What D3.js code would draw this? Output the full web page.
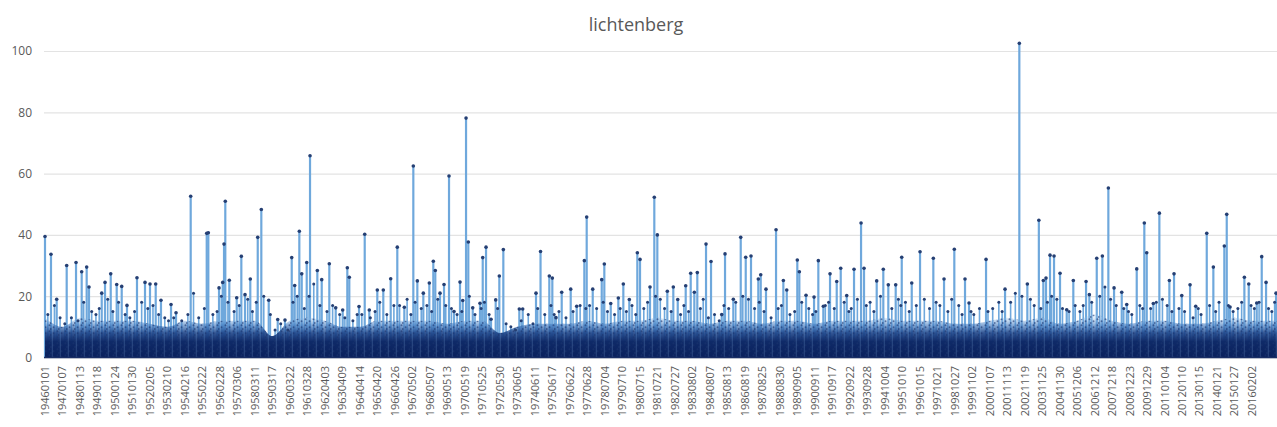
<!DOCTYPE html>
<html>
<head>
<meta charset="utf-8">
<script src="https://cdn.jsdelivr.net/npm/d3@7"></script>
<style>
  body { margin: 0; background: #fff; }
  text { font-family: "Open Sans", "Noto Sans", sans-serif; fill: #595959; }
</style>
</head>
<body>
<svg id="chart" width="1277" height="427"></svg>
<script>
// daily precipitation, station lichtenberg (mm), 1946-01-01 .. mid 2017
var tickLabels = ["19460101","19470107","19480113","19490118","19500124","19510130","19520205","19530210",
  "19540216","19550222","19560228","19570306","19580311","19590317","19600322","19610328","19620403",
  "19630409","19640414","19650420","19660426","19670502","19680507","19690513","19700519","19710525",
  "19720530","19730605","19740611","19750617","19760622","19770628","19780704","19790710","19800715",
  "19810721","19820727","19830802","19840807","19850813","19860819","19870825","19880830","19890905",
  "19900911","19910917","19920922","19930928","19941004","19951010","19961015","19971021","19981027",
  "19991102","20001107","20011113","20021119","20031125","20041130","20051206","20061212","20071218",
  "20081223","20091229","20110104","20120110","20130115","20140121","20150127","20160202"];
var labelEvery = 371;     // one label every 371 days
var totalDays = 26130;

// wet days that stand out of the dense band (day number since 1946-01-01, mm)
var spikeDay = [0,127,248,460,658,778,884,933,1203,1273,1394,1521,1627,1739,1951,2121,2227,2348,2460,2673,
  2779,3090,3430,3464,3691,3769,3797,3824,3909,4066,4164,4242,4354,4512,4588,4745,4936,5090,5233,5296,
  5394,5445,5551,5621,5776,5869,6030,6166,6314,6412,6454,6660,6781,6878,7048,7175,7332,7472,7621,7812,
  7897,8024,8151,8236,8278,8378,8463,8569,8675,8802,8860,8930,8978,9072,9226,9284,9354,9460,9559,9636,
  9721,10060,10132,10414,10510,10696,10760,10838,10959,11150,11277,11439,11489,11617,11808,11863,11999,12160,12266,
  12393,12563,12620,12832,12923,12987,13199,13326,13420,13589,13695,13772,13835,14020,14126,14353,14423,
  14599,14756,14862,14974,15129,15180,15292,15505,15660,15732,15956,15999,16141,16311,16402,16508,16650,
  16792,16877,17004,17159,17308,17371,17640,17780,17886,18043,18171,18383,18559,18841,19068,19286,19513,
  19598,19959,20362,20665,20835,21079,21174,21231,21316,21401,21528,21670,21810,22080,22150,22307,22426,
  22553,22674,22837,22943,23155,23316,23367,23507,23635,23847,23946,24110,24286,24406,24640,24780,25013,
  25064,25134,25438,25531,25700,25806,25898,26110];
var spikeMm = [39.5,33.7,19,30,31,28,29.5,23,21,24.5,27.3,23.8,23.2,17,26,24.5,24,24,18.7,17.3,
  14.6,52.6,40.5,40.7,22.7,24.5,37,51,25.2,19.5,33,20.5,25.6,39.2,48.3,18.7,12.4,12.2,32.6,23.5,
  41.2,27.3,31,65.8,28.4,25.4,30.6,16.2,15.5,29.3,26.2,16.6,40.2,15.5,22,22,25.7,36,16.4,62.5,
  25,21,24.3,31.4,28.4,21,23.8,59.2,15,24.6,18.6,78.1,37.7,16.2,17.7,32.6,36,12.5,18.8,26.6,
  35.2,15.8,15.8,21,34.6,26.6,25.9,13,21.3,22.3,16.7,31.6,45.8,22.3,25.4,30.5,17.6,19.4,24,
  18.9,34.2,32,23,52.3,40,21.6,23,18.9,23.4,27.5,21.3,27.7,37,31.3,14,33.8,
  19,39.2,32.7,33.1,25.6,27,22.3,41.7,25.1,22,31.8,28,20.3,19.7,31.6,16.7,27.3,
  24.8,29.1,20.2,28.8,43.9,29.1,25,28.8,23.7,23.7,32.7,24.3,34.5,32.4,25.6,35.3,25.6,
  17.8,32,22.3,102.5,24,44.8,25.1,25.9,33.4,33.1,27.5,15.6,25.1,24.8,20.5,32.4,33.1,
  55.3,22.7,21.3,17.3,28.9,43.9,34.2,17.6,47.1,25.1,27.3,20.2,23.7,16.7,40.5,29.5,36.4,
  46.7,16.5,26.2,24,17.8,32.9,24.5,21];

// smaller wet days just above the band (day number, mm)
var minorDay = [60,200,320,420,560,700,820,990,1080,1150,1330,1440,1560,1700,1800,1900,2050,2180,2290,2410,2540,
  2620,2730,2900,3030,3150,3260,3380,3560,3650,3740,3880,4010,4120,4300,4400,4480,4640,4780,4880,5000,5150,
  5260,5350,5500,5600,5700,5830,5980,6100,6250,6360,6530,6620,6720,6900,7000,7100,7250,7400,7520,7680,7760,
  7850,7980,8100,8200,8330,8500,8620,8740,8840,9000,9120,9250,9320,9420,9600,9780,9880,9980,10100,10250,10350,
  10450,10600,10730,10800,10900,11050,11200,11350,11470,11550,11700,11840,11930,12080,12200,12330,12450,12530,
  12700,12780,12950,13050,13140,13280,13480,13550,13650,13900,13960,14070,14200,14300,14400,14500,14650,14800,
  14920,15050,15150,15250,15400,15550,15620,15800,15900,16050,16200,16280,16350,16550,16620,16740,16950,17050,
  17100,17230,17420,17500,17580,17720,17960,18100,18150,18250,18330,18480,18650,18760,18900,18980,19150,19230,
  19380,19450,19640,19700,19820,20000,20100,20230,20300,20480,20580,20720,20900,20980,21120,21260,21350,21460,
  21580,21720,21850,21950,22020,22200,22370,22480,22600,22720,22880,22980,23050,23220,23280,23450,23570,23700,
  23800,23900,24050,24170,24350,24460,24520,24700,24830,24900,25100,25200,25300,25380,25580,25650,25750,25950,
  26020,26080];
var minorMm = [14,17,13,11,13,12,18,15,14,16,19,15,18,14,13,15,18,16,17,14,13,
  12,13,12,14,21,13,16,14,15,20,18,15,17,19,15,18,20,14,9,11,9,
  18,20,16,20,24,17,15,17,14,13,12,14,14,13,15,18,14,17,17,19,14,
  18,16,17,15,19,17,16,14,15,20,14,16,18,14,16,11,10,9,12,14,11,
  16,14,17,14,15,13,15,17,16,17,16,18,15,14,16,15,17,14,
  16,18,20,19,16,15,14,17,15,16,19,13,14,12,17,16,18,20,
  19,16,18,15,13,16,17,14,15,18,16,14,15,17,18,16,18,15,
  16,19,17,18,15,20,16,19,17,18,15,17,19,16,18,17,15,19,
  17,14,15,14,16,15,16,18,15,18,21,20,19,17,16,18,20,19,
  16,15,17,15,17,18,20,23,19,17,16,15,14,17,16,16,18,19,
  17,15,16,15,13,16,14,17,15,18,17,15,16,18,17,16,18,16,
  15,18];

// upper edge of the dense band of ordinary days, one value per label interval (mm)
var bandMm = [13,10,13,12,12,12,11,10,12,11,12,12,12,7,12,13,12,10,10,12,12,12,12,11,12,12,
  8,10,11,11,11,12,11,12,12,13,12,12,11,12,12,11,12,12,11,12,12,12,13,12,12,12,11,11,12,13,
  12,13,11,12,14,12,11,12,12,11,11,12,13,12,12,12];

var yTicks = [0,20,40,60,80,100];

var svg = d3.select("#chart");
var x = d3.scaleLinear().domain([0, totalDays]).range([45, 1277]);
var y = d3.scaleLinear().domain([0, 100]).range([357.5, 51]);

// title
svg.append("text").attr("x", 636).attr("y", 31).attr("text-anchor", "middle")
  .style("font-size", "18px").text("lichtenberg");

// gridlines + y labels
var yAxis = d3.axisLeft(y).tickValues(yTicks).tickSize(-(1277 - 44)).tickPadding(12);
var ga = svg.append("g").attr("transform", "translate(44,0)").call(yAxis);
ga.select(".domain").remove();
ga.selectAll(".tick line").attr("stroke", "#e3e3e3").attr("stroke-width", 1.2);
ga.selectAll(".tick text").style("font-size", "12px").attr("fill", "#595959");

var defs = svg.append("defs");
var grad = defs.append("linearGradient").attr("id", "band")
  .attr("gradientUnits", "userSpaceOnUse")
  .attr("x1", 0).attr("x2", 0).attr("y1", y(0)).attr("y2", y(13));
grad.append("stop").attr("offset", "0").attr("stop-color", "#09205c");
grad.append("stop").attr("offset", "0.4").attr("stop-color", "#0f2a68");
grad.append("stop").attr("offset", "0.62").attr("stop-color", "#1d4488").attr("stop-opacity", 0.9);
grad.append("stop").attr("offset", "0.82").attr("stop-color", "#3f77bd").attr("stop-opacity", 0.6);
grad.append("stop").attr("offset", "1").attr("stop-color", "#8dbbe8").attr("stop-opacity", 0.25);

var pat = defs.append("pattern").attr("id", "speck").attr("patternUnits", "userSpaceOnUse")
  .attr("width", 8).attr("height", 6);
pat.append("circle").attr("cx", 1.5).attr("cy", 1.2).attr("r", 1).attr("fill", "#1b346e");
pat.append("circle").attr("cx", 5.5).attr("cy", 3.2).attr("r", 1).attr("fill", "#1b346e");
pat.append("circle").attr("cx", 2.8).attr("cy", 5).attr("r", 0.9).attr("fill", "#1b346e");
pat.append("rect").attr("x", 3.8).attr("y", 0).attr("width", 0.9).attr("height", 6).attr("fill", "#8dbbe8").attr("opacity", 0.45);

var bandDay = bandMm.map(function(d, i) { return Math.min(i * labelEvery, totalDays); });
var area = d3.area()
  .x(function(d, i) { return x(bandDay[i]); })
  .y0(y(0))
  .y1(function(d) { return y(d); })
  .curve(d3.curveMonotoneX);

// minor and major wet days as vertical lines (line chart with markers)
var mn = svg.append("g");
mn.selectAll("line").data(minorMm).enter().append("line")
  .attr("x1", function(d, i) { return x(minorDay[i]); })
  .attr("x2", function(d, i) { return x(minorDay[i]); })
  .attr("y1", y(0))
  .attr("y2", function(d) { return y(d); })
  .attr("stroke", "#6fa8dc").attr("stroke-width", 1.6);

var sp = svg.append("g");
sp.selectAll("line").data(spikeMm).enter().append("line")
  .attr("x1", function(d, i) { return x(spikeDay[i]); })
  .attr("x2", function(d, i) { return x(spikeDay[i]); })
  .attr("y1", y(0))
  .attr("y2", function(d) { return y(d); })
  .attr("stroke", "#6fa8dc").attr("stroke-width", 2.2);

// dense band of ordinary days
svg.append("path").datum(bandMm).attr("d", area).attr("fill", "url(#band)");
svg.append("path").datum(bandMm).attr("d", area).attr("fill", "url(#speck)").attr("opacity", 0.6);

// markers
svg.append("g").selectAll("circle").data(minorMm).enter().append("circle")
  .attr("cx", function(d, i) { return x(minorDay[i]); })
  .attr("cy", function(d) { return y(d); })
  .attr("r", 1.5).attr("fill", "#253f73");
svg.append("g").selectAll("circle").data(spikeMm).enter().append("circle")
  .attr("cx", function(d, i) { return x(spikeDay[i]); })
  .attr("cy", function(d) { return y(d); })
  .attr("r", 1.8).attr("fill", "#253f73");

// x axis line + rotated date labels
svg.append("line").attr("x1", 44).attr("x2", 1277).attr("y1", y(0)).attr("y2", y(0))
  .attr("stroke", "#1a2f66").attr("stroke-width", 1.5);
svg.append("g").selectAll("text").data(tickLabels).enter().append("text")
  .attr("transform", function(d, i) { return "translate(" + (x(i * labelEvery) + 4) + ",366) rotate(-90)"; })
  .attr("text-anchor", "end")
  .style("font-size", "11px")
  .text(function(d) { return d; });
</script>
</body>
</html>
